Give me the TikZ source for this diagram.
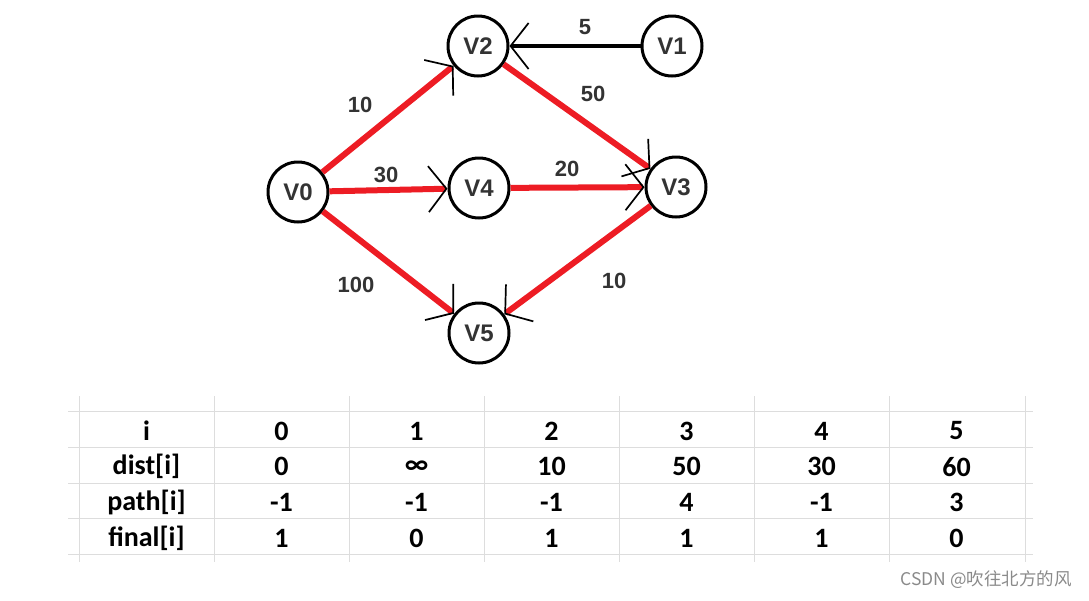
\documentclass[tikz,border=0pt]{standalone}
\usepackage{fontspec}
\setmainfont{Liberation Sans}
\newfontfamily\tabfont{Carlito}
\newfontfamily\cjkfont{Noto Sans CJK SC}
\usetikzlibrary{arrows.meta}
\definecolor{pred}{HTML}{ED1C24}
\definecolor{gridc}{HTML}{DDDDDD}
\definecolor{lbl}{HTML}{333333}
\definecolor{wmc}{HTML}{8A8A8A}
\tikzset{
  vertex/.style={circle, draw=black, line width=3pt, minimum size=60pt, inner sep=0pt,
    font=\bfseries\fontsize{24}{24}\selectfont, text=lbl},
  barb/.style={-{Straight Barb[length=18pt,width=46pt,line width=1.7pt,color=black]}},
  redge/.style={draw=pred, line width=6pt, barb},
  bedge/.style={draw=black, line width=4pt, barb},
  wlabel/.style={text=lbl, font=\bfseries\fontsize{22}{22}\selectfont, inner sep=0pt},
  cell/.style={font=\tabfont\bfseries\fontsize{28}{28}\selectfont, text=black, inner sep=0pt},
  gridline/.style={draw=gridc, line width=1pt},
}
\begin{document}
\begin{tikzpicture}[x=1pt,y=-1pt]
\useasboundingbox (0,0) rectangle (1089,600);
% vertices
\node[vertex] (v2) at (478,46) {V2};
\node[vertex] (v1) at (672,46) {V1};
\node[vertex] (v0) at (298,192) {V0};
\node[vertex] (v4) at (479,188) {V4};
\node[vertex] (v3) at (676,187) {V3};
\node[vertex] (v5) at (479,333) {V5};
% edges
\draw[bedge] (v1) -- (v2);
\draw[redge] (v0) -- (v2);
\draw[redge] (v2) -- (v3);
\draw[redge] (v0) -- (v4);
\draw[redge] (v4) -- (v3);
\draw[redge] (v0) -- (v5);
\draw[redge] (v3) -- (v5);
% weights
\node[wlabel] (w12) at (585,27) {5};
\node[wlabel] (w23) at (593,94) {50};
\node[wlabel] (w02) at (360,105) {10};
\node[wlabel] (w04) at (386,175) {30};
\node[wlabel] (w43) at (567,169) {20};
\node[wlabel] (w05) at (356,285) {100};
\node[wlabel] (w35) at (614,281) {10};
% table grid
\foreach \y [count=\k] in {411,447,483,518,554}
  \draw[gridline] (68,\y) coordinate (hl\k a) -- (1033,\y) coordinate (hl\k b);
\foreach \x [count=\k] in {79,214,349,484,619,754,889,1025}
  \draw[gridline] (\x,396) coordinate (vl\k a) -- (\x,562) coordinate (vl\k b);
% table cells
\foreach \row [count=\r] in {{i,0,1,2,3,4,5},{dist[i],0,∞,10,50,30,60},{path[i],-1,-1,-1,4,-1,3},{final[i],1,0,1,1,1,0}}
  \foreach \v [count=\c] in \row
    \node[cell] (t\r-\c) at ({146.5+135*(\c-1)},{431+35.7*(\r-1)}) {\v};
% watermark
\node[text=wmc, font=\cjkfont\fontsize{17.5}{17.5}\selectfont, inner sep=0pt, anchor=east] (wm) at (1072,580) {CSDN @吹往北方的风};
\end{tikzpicture}
\end{document}
